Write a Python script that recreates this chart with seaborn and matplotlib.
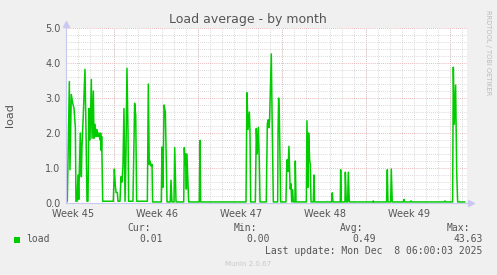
import matplotlib
matplotlib.use("Agg")
import matplotlib.pyplot as plt
from matplotlib.patches import Rectangle
from matplotlib.ticker import MultipleLocator
import seaborn as sns
import pandas as pd

# ---- data (x in days from left edge of the graph, y = load) ----
days = [0.00, 0.11, 0.28, 0.33, 0.44, 0.56, 0.67, 0.78, 0.83, 0.92,
        1.00, 1.06, 1.11, 1.19, 1.28, 1.33, 1.44, 1.58, 1.67, 1.75,
        1.83, 1.92, 2.00, 2.11, 2.17, 2.28, 2.33, 2.42, 2.50, 2.58,
        2.67, 2.75, 2.83, 2.89, 2.94, 2.97, 3.06, 3.94, 4.03, 4.11,
        4.17, 4.28, 4.33, 4.50, 4.58, 4.67, 4.75, 4.83, 4.92, 5.00,
        5.08, 5.17, 5.22, 5.58, 5.72, 5.81, 5.89, 6.78, 6.86, 6.94,
        7.00, 7.11, 7.17, 7.22, 7.94, 8.00, 8.08, 8.17, 8.28, 8.42,
        8.69, 8.75, 8.83, 9.00, 9.06, 9.17, 9.81, 9.86, 9.92, 9.97,
        10.03, 10.08, 10.22, 11.11, 11.17, 11.22, 15.00, 15.08, 15.17, 15.28,
        15.33, 15.39, 15.78, 15.86, 15.94, 16.03, 16.11, 16.17, 16.69, 16.78,
        16.86, 16.92, 16.97, 17.11, 17.19, 17.28, 17.64, 17.67, 17.72, 17.78,
        17.89, 18.33, 18.39, 18.44, 18.50, 18.58, 18.67, 18.69, 18.75, 18.81,
        18.89, 18.94, 19.08, 19.11, 19.17, 20.03, 20.08, 20.17, 20.22, 20.31,
        20.36, 20.42, 20.61, 20.67, 20.72, 22.14, 22.19, 22.25, 22.86, 22.89,
        22.94, 23.25, 23.28, 23.36, 23.47, 23.53, 23.61, 25.58, 25.61, 25.64,
        26.72, 26.78, 26.83, 27.06, 27.11, 27.19, 28.11, 28.17, 28.22, 28.70,
        28.75, 28.80, 31.53, 31.58, 31.63, 32.22, 32.28, 32.36, 32.47, 32.56,
        32.64, 33.25]
load = [0.00, 0.05, 3.47, 0.95, 3.10, 2.85, 2.70, 2.15, 0.05, 0.05,
        0.80, 0.10, 0.80, 2.00, 0.75, 1.60, 2.50, 3.82, 2.00, 0.05,
        0.05, 2.70, 1.80, 3.53, 1.85, 3.20, 1.85, 2.25, 1.90, 2.10,
        1.90, 2.00, 1.80, 2.00, 1.50, 1.90, 0.05, 0.05, 0.97, 0.50,
        0.30, 0.30, 0.05, 0.05, 0.75, 0.60, 1.10, 2.70, 0.05, 1.50,
        3.85, 2.00, 0.05, 0.05, 2.85, 2.50, 0.05, 0.05, 3.40, 1.10,
        1.20, 1.05, 1.10, 0.03, 0.03, 1.60, 0.45, 2.80, 2.60, 0.03,
        0.03, 0.65, 0.03, 0.03, 1.58, 0.03, 0.03, 1.58, 1.10, 1.40,
        0.40, 1.40, 0.03, 0.03, 1.79, 0.03, 0.03, 3.15, 2.10, 2.60,
        2.10, 0.03, 0.03, 2.13, 1.40, 2.16, 1.20, 0.03, 0.03, 2.27,
        2.38, 2.15, 2.40, 4.26, 2.10, 0.03, 0.03, 2.00, 3.00, 2.50,
        0.03, 0.03, 0.98, 1.24, 0.90, 1.62, 0.50, 0.40, 0.55, 0.03,
        0.38, 0.03, 0.03, 1.20, 0.03, 0.03, 2.35, 0.45, 2.00, 1.20,
        1.10, 0.03, 0.03, 0.80, 0.03, 0.03, 0.29, 0.03, 0.03, 0.95,
        0.03, 0.03, 0.88, 0.03, 0.03, 0.88, 0.03, 0.03, 0.06, 0.03,
        0.03, 0.95, 0.03, 0.03, 0.97, 0.03, 0.03, 0.10, 0.03, 0.03,
        0.06, 0.03, 0.03, 0.06, 0.03, 0.03, 3.88, 2.25, 3.37, 0.90,
        0.03, 0.03]

week_labels = ["Week 45", "Week 46", "Week 47", "Week 48", "Week 49"]
week_label_pos = [0.58, 7.58, 14.58, 21.58, 28.58]
week_starts = [4, 11, 18, 25, 32]
x_span = 33.42

y_ticks = [0, 1, 2, 3, 4, 5]
y_tick_labels = ["0.0", "1.0", "2.0", "3.0", "4.0", "5.0"]

legend_headers = ["Cur:", "Min:", "Avg:", "Max:"]
legend_values = ["0.01", "0.00", "0.49", "43.63"]
series_name = "load"
last_update = "Last update: Mon Dec  8 06:00:03 2025"

# ---- style ----
W, H = 497, 275
BG = "#f0f0f0"
LINE = "#00cc00"
AXIS = "#c8c8f0"
MAJOR = "#e4a0a0"
MINOR = "#cccccc"
TXT = "#555555"

sns.set_theme(style="white")
plt.rcParams["font.family"] = ["DejaVu Sans"]

fig = plt.figure(figsize=(W / 100, H / 100), dpi=100, facecolor=BG)
def fx(px):
    return px / W
def fy(py):
    return 1 - py / H

ax = fig.add_axes([fx(66), fy(203), fx(467) - fx(66), fy(28) - fy(203)])
ax.set_facecolor("white")

df = pd.DataFrame({"day": days, "load": load})

ax.set_xlim(0, x_span)
ax.set_ylim(0, 5)

# grid
ax.xaxis.set_minor_locator(MultipleLocator(1))
ax.yaxis.set_minor_locator(MultipleLocator(0.2))
ax.grid(which="minor", axis="both", color=MINOR, linestyle=(0, (1, 1.5)), linewidth=0.6)
ax.grid(which="major", axis="y", color=MAJOR, linestyle=(0, (1, 1.5)), linewidth=0.6)
ax.grid(which="major", axis="x", visible=False)
for ws in week_starts:
    ax.axvline(ws, color=MAJOR, linestyle=(0, (1, 1.5)), linewidth=0.6, zorder=0.5)
ax.set_axisbelow(True)

sns.lineplot(data=df, x="day", y="load", ax=ax, color=LINE, linewidth=1.1,
             estimator=None, sort=False, zorder=3)

ax.set_xticks(week_label_pos)
ax.set_xticklabels(week_labels)
ax.set_yticks(y_ticks)
ax.set_yticklabels(y_tick_labels)
ax.tick_params(which="both", length=0, labelsize=7, labelcolor=TXT)
ax.tick_params(axis="x", pad=4)
ax.tick_params(axis="y", pad=4)
ax.set_xlabel("")
ax.set_ylabel("")

for s in ["top", "right"]:
    ax.spines[s].set_visible(False)
for s in ["left", "bottom"]:
    ax.spines[s].set_color(AXIS)
    ax.spines[s].set_linewidth(0.8)
    ax.spines[s].set_zorder(4)

# axis arrows
ax.plot([1.0 + 4 / 401], [0], marker=">", ms=4.5, color=AXIS, transform=ax.transAxes,
        clip_on=False, zorder=5)
ax.plot([0], [1.0 + 4 / 175], marker="^", ms=4.5, color=AXIS, transform=ax.transAxes,
        clip_on=False, zorder=5)

# texts
fig.text(fx(248), fy(19), "Load average - by month", ha="center", va="center",
         fontsize=9, color=TXT)
fig.text(fx(10), fy(115), "load", ha="center", va="center", rotation=90,
         fontsize=8, color=TXT)
fig.text(fx(488), fy(53), "RRDTOOL / TOBI OETIKER", ha="center", va="center",
         rotation=-90, fontsize=4.8, color="#bbbbbb")

mono = "DejaVu Sans Mono"
fig.patches.append(Rectangle((fx(14), fy(242.5)), fx(6), fy(236.5) - fy(242.5),
                             transform=fig.transFigure, facecolor=LINE,
                             edgecolor="none"))
fig.text(fx(26), fy(239.5), series_name, ha="left", va="center",
         fontsize=7, family=mono, color=TXT)
head_x = [150.5, 257, 363.5, 470.5]
val_x = [163, 269.5, 376, 482.5]
for hx, h in zip(head_x, legend_headers):
    fig.text(fx(hx), fy(228), h, ha="right", va="center", fontsize=7,
             family=mono, color=TXT)
for vx, v in zip(val_x, legend_values):
    fig.text(fx(vx), fy(239.5), v, ha="right", va="center", fontsize=7,
             family=mono, color=TXT)
fig.text(fx(482.5), fy(251), last_update, ha="right", va="center", fontsize=7,
         family=mono, color=TXT)
fig.text(fx(248), fy(264), "Munin 2.0.67", ha="center", va="center",
         fontsize=5, color="#c8c8c8")

fig.savefig("out.png", dpi=100, facecolor=BG)
